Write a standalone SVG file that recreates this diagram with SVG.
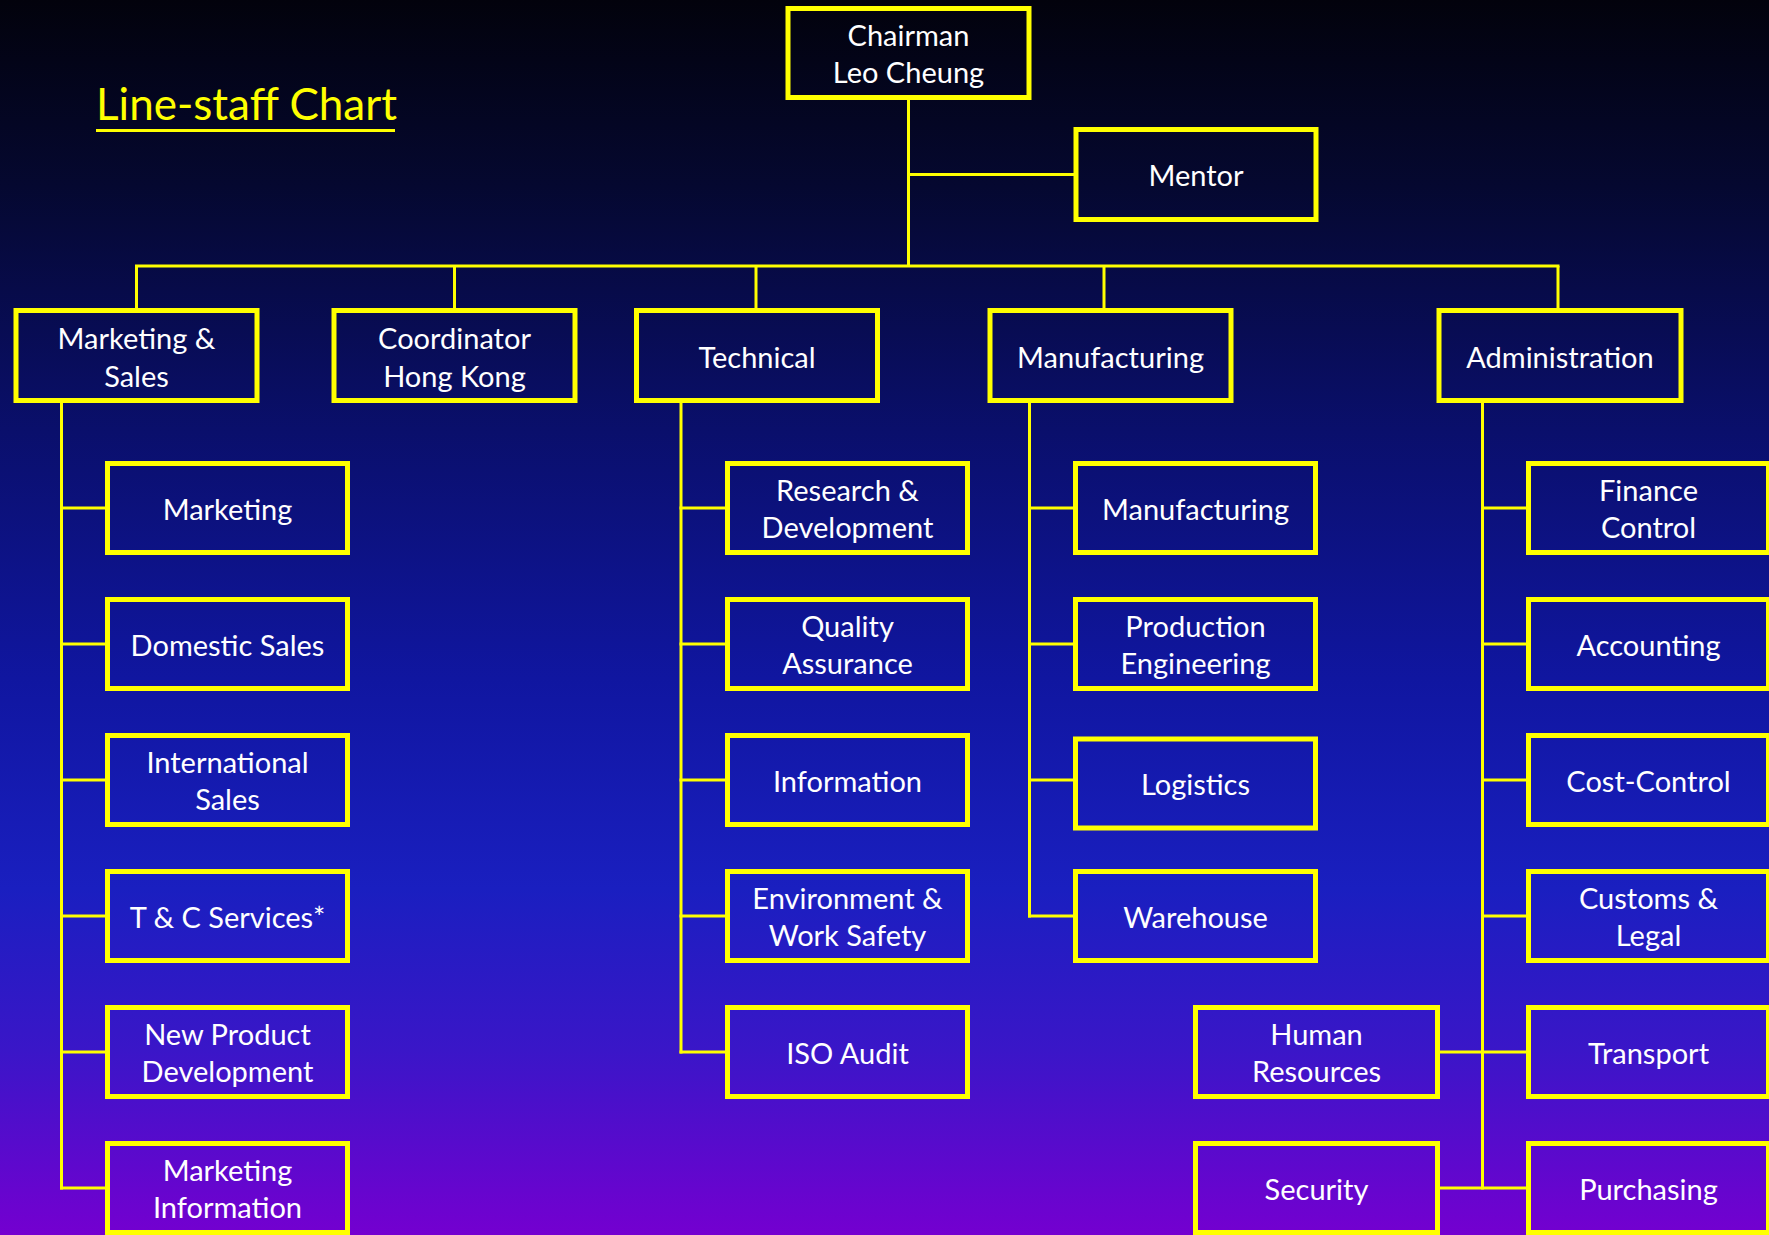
<svg xmlns="http://www.w3.org/2000/svg" width="1769" height="1235" viewBox="0 0 1769 1235">
<defs>
<linearGradient id="bg" x1="0" y1="0" x2="0" y2="1">
<stop offset="0" stop-color="#02020c"/>
<stop offset="0.15" stop-color="#050830"/>
<stop offset="0.35" stop-color="#0a0f6c"/>
<stop offset="0.55" stop-color="#1016a0"/>
<stop offset="0.72" stop-color="#1a1fc0"/>
<stop offset="0.85" stop-color="#3a16c8"/>
<stop offset="1" stop-color="#7400d0"/>
</linearGradient>
<style>
.box{fill:none;stroke:#ffff00;stroke-width:5}
.lbl{font-family:Lato,"Open Sans","Liberation Sans",sans-serif;font-size:29px;fill:#ffffff;text-anchor:middle;transform:translateY(1.5px)}
.conn line{stroke:#ffff00;stroke-width:3}
.title{font-family:Lato,"Open Sans","Liberation Sans",sans-serif;font-size:44px;fill:#ffff00}
</style>
</defs>
<rect x="0" y="0" width="1769" height="1235" fill="url(#bg)"/>

<g id="title">
<text class="title" x="96" y="119.5">Line-staff Chart</text>
<line x1="96" y1="130.5" x2="395" y2="130.5" stroke="#ffff00" stroke-width="3"/>
</g>

<g class="conn" id="connectors">
<line x1="908.5" y1="98" x2="908.5" y2="266"/>
<line x1="908.5" y1="174.5" x2="1074" y2="174.5"/>
<line x1="135" y1="266" x2="1559.5" y2="266"/>
<line x1="136.5" y1="266" x2="136.5" y2="308"/>
<line x1="454.5" y1="266" x2="454.5" y2="308"/>
<line x1="756" y1="266" x2="756" y2="308"/>
<line x1="1104" y1="266" x2="1104" y2="308"/>
<line x1="1558" y1="266" x2="1558" y2="308"/>
<line x1="61.5" y1="403" x2="61.5" y2="1189.5"/>
<line x1="60" y1="508" x2="105" y2="508"/>
<line x1="60" y1="644" x2="105" y2="644"/>
<line x1="60" y1="780" x2="105" y2="780"/>
<line x1="60" y1="916" x2="105" y2="916"/>
<line x1="60" y1="1052" x2="105" y2="1052"/>
<line x1="60" y1="1188" x2="105" y2="1188"/>
<line x1="681" y1="403" x2="681" y2="1053.5"/>
<line x1="679.5" y1="508" x2="725" y2="508"/>
<line x1="679.5" y1="644" x2="725" y2="644"/>
<line x1="679.5" y1="780" x2="725" y2="780"/>
<line x1="679.5" y1="916" x2="725" y2="916"/>
<line x1="679.5" y1="1052" x2="725" y2="1052"/>
<line x1="1029.5" y1="403" x2="1029.5" y2="917.5"/>
<line x1="1028" y1="508" x2="1073" y2="508"/>
<line x1="1028" y1="644" x2="1073" y2="644"/>
<line x1="1028" y1="780" x2="1073" y2="780"/>
<line x1="1028" y1="916" x2="1073" y2="916"/>
<line x1="1482.5" y1="403" x2="1482.5" y2="1189.5"/>
<line x1="1482.5" y1="508" x2="1526" y2="508"/>
<line x1="1482.5" y1="644" x2="1526" y2="644"/>
<line x1="1482.5" y1="780" x2="1526" y2="780"/>
<line x1="1482.5" y1="916" x2="1526" y2="916"/>
<line x1="1440" y1="1052" x2="1526" y2="1052"/>
<line x1="1440" y1="1188" x2="1526" y2="1188"/>
</g>

<g id="chairman"><rect class="box" x="788" y="8.5" width="241" height="89"/><text class="lbl" x="908.5" y="44">Chairman</text><text class="lbl" x="908.5" y="81.5">Leo Cheung</text></g>
<g id="mentor"><rect class="box" x="1076" y="129.5" width="240" height="90"/><text class="lbl" x="1196" y="184.5">Mentor</text></g>

<g id="marketing-sales"><rect class="box" x="16" y="310.5" width="241" height="90"/><text class="lbl" x="136.5" y="347">Marketing &amp;</text><text class="lbl" x="136.5" y="385">Sales</text></g>
<g id="coordinator"><rect class="box" x="334" y="310.5" width="241" height="90"/><text class="lbl" x="454.5" y="347">Coordinator</text><text class="lbl" x="454.5" y="385">Hong Kong</text></g>
<g id="technical"><rect class="box" x="636.5" y="310.5" width="241" height="90"/><text class="lbl" x="757" y="366">Technical</text></g>
<g id="manufacturing"><rect class="box" x="990" y="310.5" width="241" height="90"/><text class="lbl" x="1110.5" y="366">Manufacturing</text></g>
<g id="administration"><rect class="box" x="1439" y="310.5" width="242" height="90"/><text class="lbl" x="1560" y="366">Administration</text></g>

<g id="marketing"><rect class="box" x="107.5" y="463.5" width="240" height="89"/><text class="lbl" x="227.5" y="518">Marketing</text></g>
<g id="domestic-sales"><rect class="box" x="107.5" y="599.5" width="240" height="89"/><text class="lbl" x="227.5" y="654">Domestic Sales</text></g>
<g id="international-sales"><rect class="box" x="107.5" y="735.5" width="240" height="89"/><text class="lbl" x="227.5" y="771">International</text><text class="lbl" x="227.5" y="808.5">Sales</text></g>
<g id="tc-services"><rect class="box" x="107.5" y="871.5" width="240" height="89"/><text class="lbl" x="227.5" y="926">T &amp; C Services*</text></g>
<g id="new-product-development"><rect class="box" x="107.5" y="1007.5" width="240" height="89"/><text class="lbl" x="227.5" y="1043">New Product</text><text class="lbl" x="227.5" y="1080.5">Development</text></g>
<g id="marketing-information"><rect class="box" x="107.5" y="1143.5" width="240" height="89"/><text class="lbl" x="227.5" y="1179">Marketing</text><text class="lbl" x="227.5" y="1216.5">Information</text></g>

<g id="research-development"><rect class="box" x="727.5" y="463.5" width="240" height="89"/><text class="lbl" x="847.5" y="499">Research &amp;</text><text class="lbl" x="847.5" y="536.5">Development</text></g>
<g id="quality-assurance"><rect class="box" x="727.5" y="599.5" width="240" height="89"/><text class="lbl" x="847.5" y="635">Quality</text><text class="lbl" x="847.5" y="672.5">Assurance</text></g>
<g id="information"><rect class="box" x="727.5" y="735.5" width="240" height="89"/><text class="lbl" x="847.5" y="790">Information</text></g>
<g id="environment-work-safety"><rect class="box" x="727.5" y="871.5" width="240" height="89"/><text class="lbl" x="847.5" y="907">Environment &amp;</text><text class="lbl" x="847.5" y="944.5">Work Safety</text></g>
<g id="iso-audit"><rect class="box" x="727.5" y="1007.5" width="240" height="89"/><text class="lbl" x="847.5" y="1062">ISO Audit</text></g>

<g id="manufacturing-sub"><rect class="box" x="1075.5" y="463.5" width="240" height="89"/><text class="lbl" x="1195.5" y="518">Manufacturing</text></g>
<g id="production-engineering"><rect class="box" x="1075.5" y="599.5" width="240" height="89"/><text class="lbl" x="1195.5" y="635">Production</text><text class="lbl" x="1195.5" y="672.5">Engineering</text></g>
<g id="logistics"><rect class="box" x="1075.5" y="739" width="240" height="89"/><text class="lbl" x="1195.5" y="793.5">Logistics</text></g>
<g id="warehouse"><rect class="box" x="1075.5" y="871.5" width="240" height="89"/><text class="lbl" x="1195.5" y="926">Warehouse</text></g>

<g id="finance-control"><rect class="box" x="1528.5" y="463.5" width="240" height="89"/><text class="lbl" x="1648.5" y="499">Finance</text><text class="lbl" x="1648.5" y="536.5">Control</text></g>
<g id="accounting"><rect class="box" x="1528.5" y="599.5" width="240" height="89"/><text class="lbl" x="1648.5" y="654">Accounting</text></g>
<g id="cost-control"><rect class="box" x="1528.5" y="735.5" width="240" height="89"/><text class="lbl" x="1648.5" y="790">Cost-Control</text></g>
<g id="customs-legal"><rect class="box" x="1528.5" y="871.5" width="240" height="89"/><text class="lbl" x="1648.5" y="907">Customs &amp;</text><text class="lbl" x="1648.5" y="944.5">Legal</text></g>
<g id="transport"><rect class="box" x="1528.5" y="1007.5" width="240" height="89"/><text class="lbl" x="1648.5" y="1062">Transport</text></g>
<g id="purchasing"><rect class="box" x="1528.5" y="1143.5" width="240" height="89"/><text class="lbl" x="1648.5" y="1198">Purchasing</text></g>
<g id="human-resources"><rect class="box" x="1195.5" y="1007.5" width="242" height="89"/><text class="lbl" x="1316.5" y="1043">Human</text><text class="lbl" x="1316.5" y="1080.5">Resources</text></g>
<g id="security"><rect class="box" x="1195.5" y="1143.5" width="242" height="89"/><text class="lbl" x="1316.5" y="1198">Security</text></g>
</svg>
